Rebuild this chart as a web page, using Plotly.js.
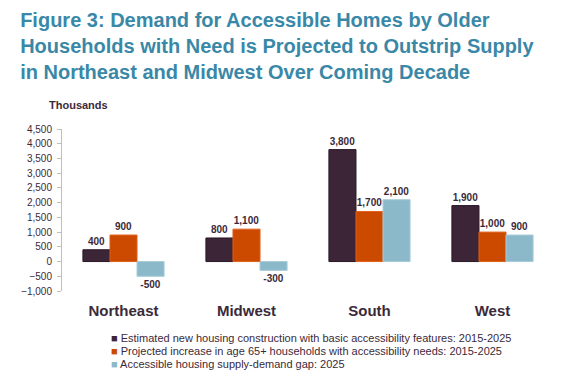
<!DOCTYPE html>
<html>
<head>
<meta charset="utf-8">
<script src="https://cdn.plot.ly/plotly-3.0.1.min.js"></script>
<style>html,body{margin:0;padding:0;background:#fff;}#chart{width:576px;height:379px;}</style>
</head>
<body>
<div id="chart"></div>
<script>
const regions = ["Northeast", "Midwest", "South", "West"];
const seriesNames = [
  "Estimated new housing construction with basic accessibility features: 2015-2025",
  "Projected increase in age 65+ households with accessibility needs: 2015-2025",
  "Accessible housing supply-demand gap: 2025"
];
const construction = [400, 800, 3800, 1900];
const demand = [900, 1100, 1700, 1000];
const gap = [-500, -300, 2100, 900];
const yTicks = [-1000, -500, 0, 500, 1000, 1500, 2000, 2500, 3000, 3500, 4000, 4500];

const colors = ["#3c2537", "#cc4a00", "#8cb9ca"];
const lineColors = ["#2a1726", "#e0601a", "#a6cbd8"];
const FONT = "Liberation Sans, Arial, sans-serif";
const DARK = "#3b2a3a";

const values = [construction, demand, gap];
const traces = values.map((v, i) => ({
  type: "bar",
  x: regions,
  y: v,
  name: seriesNames[i],
  marker: {color: colors[i], line: {color: lineColors[i], width: 1}},
  text: v.map(d => d.toLocaleString("en-US")),
  textposition: "outside",
  textfont: {family: FONT, size: 10, color: DARK, weight: 700},
  cliponaxis: false,
  hoverinfo: "skip",
  showlegend: false
}));

const yMin = -1000, yMax = 4500;
const zeroFrac = (0 - yMin) / (yMax - yMin);

const annotations = [{
  text: "Thousands", xref: "paper", yref: "paper",
  x: -0.031, y: 1.148, xanchor: "left", yanchor: "middle", showarrow: false,
  font: {family: FONT, size: 11, color: DARK, weight: 700}
}];
seriesNames.forEach((n, i) => {
  annotations.push({
    text: '<span style="color:' + colors[i] + '">■</span> ' + n,
    xref: "paper", yref: "paper",
    x: 0.0955, y: -0.2895 - i * 0.0815, xanchor: "left", yanchor: "middle",
    showarrow: false,
    font: {family: FONT, size: 11, color: DARK}
  });
});

const titleText =
  "Figure 3: Demand for Accessible Homes by Older<br>" +
  "Households with Need is Projected to Outstrip Supply<br>" +
  "in Northeast and Midwest Over Coming Decade";

const layout = {
  width: 576, height: 379,
  margin: {l: 62, r: 22, t: 129, b: 88},
  paper_bgcolor: "#ffffff", plot_bgcolor: "#ffffff",
  title: {
    text: titleText,
    x: 0.035, xref: "container", xanchor: "left",
    y: 0.929, yref: "container", yanchor: "top",
    font: {family: FONT, size: 20, color: "#3a88a7", weight: 700}
  },
  barmode: "group", bargap: 0.34, bargroupgap: 0,
  xaxis: {
    type: "category", range: [-0.5, 3.5],
    showline: false, ticks: "", showgrid: false, zeroline: false,
    tickfont: {family: FONT, size: 15, color: DARK, weight: 700},
    ticklabelstandoff: 9, fixedrange: true
  },
  xaxis2: {
    overlaying: "x", anchor: "free", position: zeroFrac,
    range: [-0.5, 3.5], tickvals: [0.5, 1.5, 2.5, 3.5],
    ticks: "outside", ticklen: 5, tickcolor: "#c8c8c8", tickwidth: 1,
    showline: true, linecolor: "#c8c8c8", linewidth: 1.5,
    showticklabels: false, showgrid: false, zeroline: false
  },
  yaxis: {
    range: [yMin, yMax], tickvals: yTicks, tickformat: ",",
    ticks: "outside", ticklen: 4, tickcolor: "#bfbfbf",
    showline: true, linecolor: "#bfbfbf", linewidth: 1,
    showgrid: false, zeroline: false, ticklabelstandoff: 3,
    tickfont: {family: FONT, size: 10, color: DARK}
  },
  annotations: annotations,
  showlegend: false
};

Plotly.newPlot("chart", traces, layout, {displayModeBar: false, staticPlot: true});
</script>
</body>
</html>
